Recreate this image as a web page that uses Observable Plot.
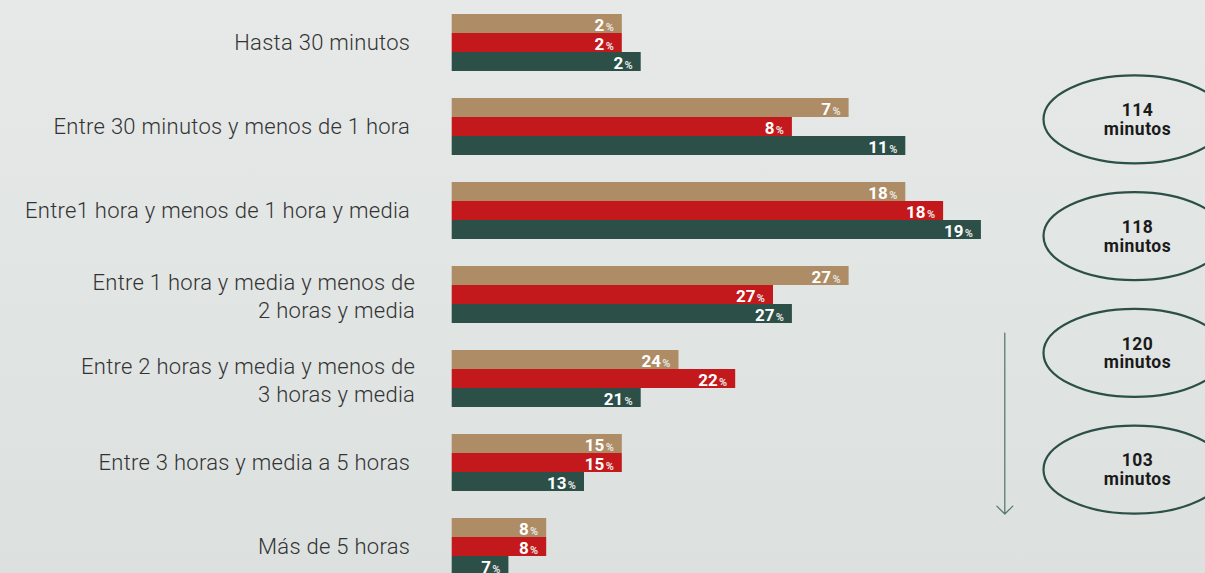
<!DOCTYPE html>
<html><head><meta charset="utf-8">
<script src="https://cdn.jsdelivr.net/npm/d3@7"></script>
<script src="https://cdn.jsdelivr.net/npm/@observablehq/plot@0.6"></script>
<style>
html,body{margin:0;padding:0;overflow:hidden;width:1205px;height:573px;}
body{background:linear-gradient(180deg,#e6e9e8 0%,#dce1df 100%);}
#wrap{position:relative;width:1205px;height:573px;overflow:hidden;}
#wrap svg{position:absolute;left:0;top:0;}
</style></head><body><div id="wrap"></div>
<script>
// ---- data ----
const categories = [
  "Hasta 30 minutos",
  "Entre 30 minutos y menos de 1 hora",
  "Entre1 hora y menos de 1 hora y media",
  "Entre 1 hora y media y menos de\n2 horas y media",
  "Entre 2 horas y media y menos de\n3 horas y media",
  "Entre 3 horas y media a 5 horas",
  "Más de 5 horas"
];
const series = ["A", "B", "C"];
const seriesColors = ["#ae8c65", "#c4191c", "#2c4f48"];
// printed percentages
const pctA = [2, 7, 18, 27, 24, 15, 8];
const pctB = [2, 8, 18, 27, 22, 15, 8];
const pctC = [2, 11, 19, 27, 21, 13, 7];
// bar lengths as drawn in the picture (arbitrary units)
const lenA = [9, 21, 24, 21, 12, 9, 5];
const lenB = [9, 18, 26, 17, 15, 9, 5];
const lenC = [10, 24, 28, 18, 10, 7, 3];
// averages shown in the ellipses
const averages = ["114", "118", "120", "103"];

const pcts = [pctA, pctB, pctC];
const lens = [lenA, lenB, lenC];
const rows = [];
categories.forEach((cat, i) => series.forEach((s, j) => rows.push({cat, series: s, pct: pcts[j][i], len: lens[j][i]})));

const font = "Roboto, 'Noto Sans', sans-serif";

const main = Plot.plot({
  width: 1205, height: 575,
  marginTop: 14, marginBottom: 0, marginLeft: 451.7, marginRight: 16.2,
  style: {background: "transparent", fontFamily: font, overflow: "visible"},
  x: {domain: [0, 39], axis: null},
  y: {domain: series, axis: null, padding: 0},
  fy: {domain: categories, axis: null, paddingInner: 27 / 84, paddingOuter: 0},
  color: {domain: series, range: seriesColors},
  marks: [
    Plot.barX(rows, {x: "len", y: "series", fy: "cat", fill: "series"}),
    Plot.text(rows, {x: "len", y: "series", fy: "cat", text: d => String(d.pct),
      textAnchor: "end", dx: -18, dy: 1.5, fill: "white", fontWeight: "bold", fontSize: 17}),
    Plot.text(rows, {x: "len", y: "series", fy: "cat", text: () => "%",
      textAnchor: "end", dx: -8.5, dy: 3.5, fill: "#e4e4e4", fontWeight: "bold", fontSize: 11}),
    Plot.text(categories.filter(c => !c.includes("\n")), {fy: d => d, text: d => d,
      frameAnchor: "left", textAnchor: "end", dx: -42, fontSize: 22, fontWeight: 300, fill: "#333"}),
    Plot.text(categories.filter(c => c.includes("\n")), {fy: d => d, text: d => d,
      frameAnchor: "left", textAnchor: "end", dx: -37, lineHeight: 1.25, fontSize: 22, fontWeight: 300, fill: "#333"})
  ]
});
// slight letter spacing on the category labels
d3.select(main).selectAll('g[aria-label="text"]').filter((d, i) => i >= 2).style("letter-spacing", "0.28px");

// ellipse symbol (fixed radii)
const ellipseSymbol = {
  draw(ctx) {
    const rx = 91, ry = 44, k = 0.5523;
    ctx.moveTo(-rx, 0);
    ctx.bezierCurveTo(-rx, -ry * k, -rx * k, -ry, 0, -ry);
    ctx.bezierCurveTo(rx * k, -ry, rx, -ry * k, rx, 0);
    ctx.bezierCurveTo(rx, ry * k, rx * k, ry, 0, ry);
    ctx.bezierCurveTo(-rx * k, ry, -rx, ry * k, -rx, 0);
    ctx.closePath();
  }
};

const overlay = Plot.plot({
  width: 1205, height: 573, margin: 0,
  style: {background: "transparent", fontFamily: font, overflow: "visible"},
  x: {type: "linear", domain: [0, 1], range: [1004.3, 1134], axis: null},
  y: {type: "linear", domain: [0, 4], range: [60.4, 527.6], axis: null},
  marks: [
    Plot.arrow([{y1: 2.33, y2: 3.88}], {x1: 0, x2: 0, y1: "y1", y2: "y2",
      stroke: "#5b7a73", strokeWidth: 1.3, headAngle: 90, headLength: 13}),
    Plot.dot(averages, {x: () => 1, y: (d, i) => i + 0.5, symbol: ellipseSymbol, r: 10,
      fill: "none", stroke: "#2c4f48", strokeWidth: 2.2}),
    Plot.text(averages, {x: () => 1, y: (d, i) => i + 0.5, text: d => d + "\nminutos", dx: 3,
      fontWeight: "bold", fontSize: 17.5, lineHeight: 1.08, fill: "#1a1a1a"})
  ]
});
d3.select(overlay).selectAll('g[aria-label="text"]').style("letter-spacing", "0.5px");

const wrap = document.getElementById("wrap");
wrap.appendChild(main);
wrap.appendChild(overlay);
</script></body></html>
